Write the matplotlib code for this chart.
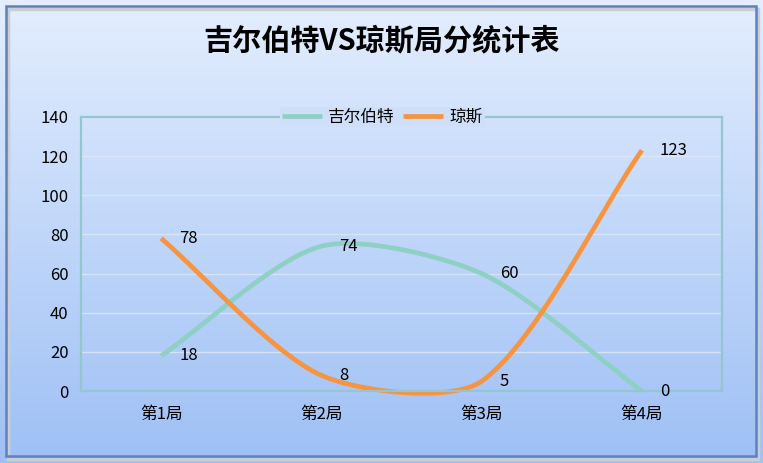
import numpy as np
import matplotlib.pyplot as plt
from matplotlib.patches import Rectangle

plt.rcParams['font.family'] = ['Noto Sans CJK SC', 'DejaVu Sans']

title = '吉尔伯特VS琼斯局分统计表'
rounds = ['第1局', '第2局', '第3局', '第4局']
gilbert = [18, 74, 60, 0]
jones = [78, 8, 5, 123]
yticks = [0, 20, 40, 60, 80, 100, 120, 140]

teal = '#8fd0c4'
orange = '#f79440'

W, H = 763, 463
fig = plt.figure(figsize=(W / 100, H / 100), dpi=100)

# gradient background
bg = fig.add_axes([0, 0, 1, 1], zorder=-10)
top = np.array([228, 238, 254]) / 255
bot = np.array([158, 192, 245]) / 255
t = np.linspace(0, 1, 256)[:, None]
grad = top + (bot - top) * t
bg.imshow(grad[:, None, :], aspect='auto', extent=[0, 1, 0, 1])
bg.add_patch(Rectangle((8 / W, 4 / H), 750 / W, 450 / H, fill=False,
                       edgecolor='#c9cdd6', lw=2.5, transform=bg.transAxes))
bg.add_patch(Rectangle((6 / W, 7 / H), 750 / W, 450 / H, fill=False,
                       edgecolor='#5a83bf', lw=1.8, transform=bg.transAxes))
bg.axis('off')

# plot area in pixels
x0, x1, y0, y1 = 81, 722, 391, 117
ax = fig.add_axes([x0 / W, 1 - y0 / H, (x1 - x0) / W, (y0 - y1) / H])
ax.patch.set_alpha(0)
ax.set_xlim(-0.5, 3.5)
ax.set_ylim(0, 140)
sx = (x1 - x0) / 4
sy = (y0 - y1) / 140


def smooth(xs, ys, n=60, k=0.8):
    # Excel-like smoothed line: bezier with chord-weighted tangents (pixel space)
    p = np.column_stack([np.asarray(xs, float) * sx, np.asarray(ys, float) * sy])
    m = len(p)
    out = []
    for i in range(m - 1):
        pa = p[max(i - 1, 0)]
        p1, p2 = p[i], p[i + 1]
        pb = p[min(i + 2, m - 1)]
        d0 = np.linalg.norm(p1 - pa)
        d1 = np.linalg.norm(p2 - p1)
        d2 = np.linalg.norm(pb - p2)
        t1 = (p2 - pa) * d1 / (d0 + d1) * k
        t2 = (pb - p1) * d1 / (d1 + d2) * k
        b0, b1, b2, b3 = p1, p1 + t1 / 3, p2 - t2 / 3, p2
        u = np.linspace(0, 1, n)[:, None]
        seg = ((1 - u) ** 3) * b0 + 3 * ((1 - u) ** 2) * u * b1 + 3 * (1 - u) * u ** 2 * b2 + u ** 3 * b3
        out.append(seg)
    c = np.vstack(out)
    return c[:, 0] / sx, c[:, 1] / sy


xs = np.arange(len(rounds))
gx, gy = smooth(xs, gilbert)
jx, jy = smooth(xs, jones)
ax.plot(gx, gy, color=teal, lw=3.4, label='吉尔伯特', solid_capstyle='butt', clip_on=False)
ax.plot(jx, jy, color=orange, lw=3.4, label='琼斯', solid_capstyle='butt', clip_on=False)

fs = 12
for x, v in zip(xs, gilbert):
    ax.annotate(str(v), (x, v), xytext=(13, 0), textcoords='offset points',
                ha='left', va='center', fontsize=fs, color='black')
for x, v in zip(xs, jones):
    ax.annotate(str(v), (x, v), xytext=(13, 0), textcoords='offset points',
                ha='left', va='center', fontsize=fs, color='black')

ax.set_yticks(yticks)
ax.set_xticks(xs)
ax.set_xticklabels(rounds)
ax.tick_params(length=0, labelsize=fs, pad=11)
ax.tick_params(axis='y', pad=9)
ax.grid(axis='y', color='#dfe9f8', lw=1, alpha=0.8)
ax.set_axisbelow(True)
for s in ax.spines.values():
    s.set_color('#93c6cf')
    s.set_linewidth(1.6)

leg = ax.legend(loc='center', bbox_to_anchor=(0.47, 1.0), ncol=2, frameon=True,
                fontsize=fs, handlelength=2.4, columnspacing=0.5, handletextpad=0.4,
                borderpad=0.1)
leg.get_frame().set_facecolor('#cfdff9')
leg.get_frame().set_edgecolor('none')
leg.get_frame().set_alpha(1)

fig.text(0.5, 1 - 40 / H, title, ha='center', va='center', fontsize=21, fontweight='bold')

fig.savefig('out.png', dpi=100)
